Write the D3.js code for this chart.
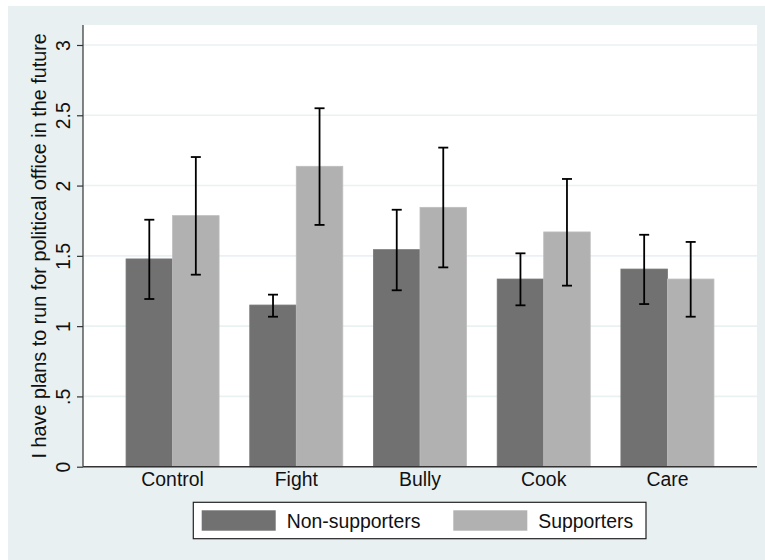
<!DOCTYPE html>
<html>
<head>
<meta charset="utf-8">
<script src="https://cdn.jsdelivr.net/npm/d3@7"></script>
<style>
  html, body { margin: 0; padding: 0; background: #ffffff; }
  svg { display: block; font-family: "Liberation Sans", Arial, Helvetica, sans-serif; }
</style>
</head>
<body>
<svg id="chart" width="765" height="560"></svg>
<script>
// Treatment groups and mean responses with 95% intervals
const categories = ["Control", "Fight", "Bully", "Cook", "Care"];
const seriesNames = ["Non-supporters", "Supporters"];
const nonMean = [1.478, 1.150, 1.544, 1.335, 1.406];
const nonLo   = [1.193, 1.067, 1.255, 1.148, 1.157];
const nonHi   = [1.757, 1.224, 1.828, 1.518, 1.650];
const supMean = [1.786, 2.137, 1.845, 1.670, 1.335];
const supLo   = [1.366, 1.720, 1.418, 1.288, 1.067];
const supHi   = [2.203, 2.550, 2.270, 2.047, 1.599];
const tickValues = [0, 0.5, 1, 1.5, 2, 2.5, 3];
const tickLabels = ["0", ".5", "1", "1.5", "2", "2.5", "3"];
const yTitle = "I have plans to run for political office in the future";

const colors = { "Non-supporters": "#717171", "Supporters": "#b1b1b1" };
const fontSize = 19.4;

const svg = d3.select("#chart");
const plot = { left: 83, right: 757, top: 25, bottom: 466.7 };

// outer graph region
svg.append("rect").attr("x", 8).attr("y", 6).attr("width", 757).attr("height", 554)
  .attr("fill", "#e9f0f2");
// plot region
svg.append("rect").attr("x", plot.left).attr("y", plot.top)
  .attr("width", plot.right - plot.left).attr("height", plot.bottom - plot.top)
  .attr("fill", "#ffffff");

const x = d3.scaleBand().domain(categories).range([plot.left, plot.right])
  .paddingInner(0.248).paddingOuter(0.348);
const xs = d3.scaleBand().domain(seriesNames).range([0, x.bandwidth()]).padding(0);
const y = d3.scaleLinear().domain([0, 3]).range([plot.bottom, 45]);

// horizontal grid lines
svg.append("g").selectAll("line").data(tickValues.filter(v => v > 0)).join("line")
  .attr("x1", plot.left).attr("x2", plot.right)
  .attr("y1", d => y(d)).attr("y2", d => y(d))
  .attr("stroke", "#eaf1f3").attr("stroke-width", 1.6);

const rows = categories.map((c, i) => ([
  { cat: c, s: "Non-supporters", mean: nonMean[i], lo: nonLo[i], hi: nonHi[i] },
  { cat: c, s: "Supporters", mean: supMean[i], lo: supLo[i], hi: supHi[i] }
])).flat();

// bars
svg.append("g").selectAll("rect").data(rows).join("rect")
  .attr("x", d => x(d.cat) + xs(d.s))
  .attr("y", d => y(d.mean))
  .attr("width", xs.bandwidth())
  .attr("height", d => y(0) - y(d.mean))
  .attr("fill", d => colors[d.s])
  .attr("stroke", d => d.s === "Supporters" ? "#bdbdbd" : "#767676")
  .attr("stroke-width", 0.8);

// error bars
const eb = svg.append("g").attr("stroke", "#000").attr("stroke-width", 1.8);
rows.forEach(d => {
  const cx = x(d.cat) + xs(d.s) + xs.bandwidth() / 2;
  eb.append("line").attr("x1", cx).attr("x2", cx).attr("y1", y(d.hi)).attr("y2", y(d.lo));
  eb.append("line").attr("x1", cx - 5).attr("x2", cx + 5).attr("y1", y(d.hi)).attr("y2", y(d.hi));
  eb.append("line").attr("x1", cx - 5).attr("x2", cx + 5).attr("y1", y(d.lo)).attr("y2", y(d.lo));
});

// y axis
const yAxis = d3.axisLeft(y).tickValues(tickValues).tickFormat((d, i) => tickLabels[i])
  .tickSize(6).tickSizeOuter(0).tickPadding(6);
const gy = svg.append("g").attr("transform", `translate(${plot.left},0)`).call(yAxis);
gy.select(".domain").attr("stroke", "#333").attr("stroke-width", 1.2)
  .attr("d", `M0,${plot.top}V${plot.bottom}`);
gy.selectAll(".tick line").attr("stroke", "#333").attr("stroke-width", 1.2);
gy.selectAll(".tick text")
  .attr("font-size", fontSize).attr("fill", "#111")
  .attr("x", null).attr("dy", null)
  .attr("text-anchor", "middle")
  .attr("transform", "translate(-13,0) rotate(-90)");

// x axis
const xAxis = d3.axisBottom(x).tickSize(0).tickPadding(0);
const gx = svg.append("g").attr("transform", `translate(0,${plot.bottom})`).call(xAxis);
gx.select(".domain").attr("stroke", "#333").attr("stroke-width", 1.4)
  .attr("d", `M${plot.left},0H${plot.right}`);
gx.selectAll(".tick text").attr("font-size", fontSize).attr("fill", "#111")
  .attr("dy", null).attr("y", 19.8);

// y axis title
svg.append("text")
  .attr("transform", `translate(46,${(plot.top + plot.bottom) / 2}) rotate(-90)`)
  .attr("text-anchor", "middle").attr("font-size", 19.8).attr("fill", "#111")
  .text(yTitle);

// legend
const lg = svg.append("g");
lg.append("rect").attr("x", 193.3).attr("y", 502.3).attr("width", 452.7).attr("height", 36.4)
  .attr("fill", "#ffffff").attr("stroke", "#222").attr("stroke-width", 1.2);
const legendX = [201.7, 453.3];
seriesNames.forEach((s, i) => {
  lg.append("rect").attr("x", legendX[i]).attr("y", 510.3).attr("width", 74).attr("height", 20.4)
    .attr("fill", colors[s]);
  lg.append("text").attr("x", legendX[i] + 85).attr("y", 528.3)
    .attr("font-size", fontSize).attr("fill", "#111").text(s);
});
</script>
</body>
</html>
